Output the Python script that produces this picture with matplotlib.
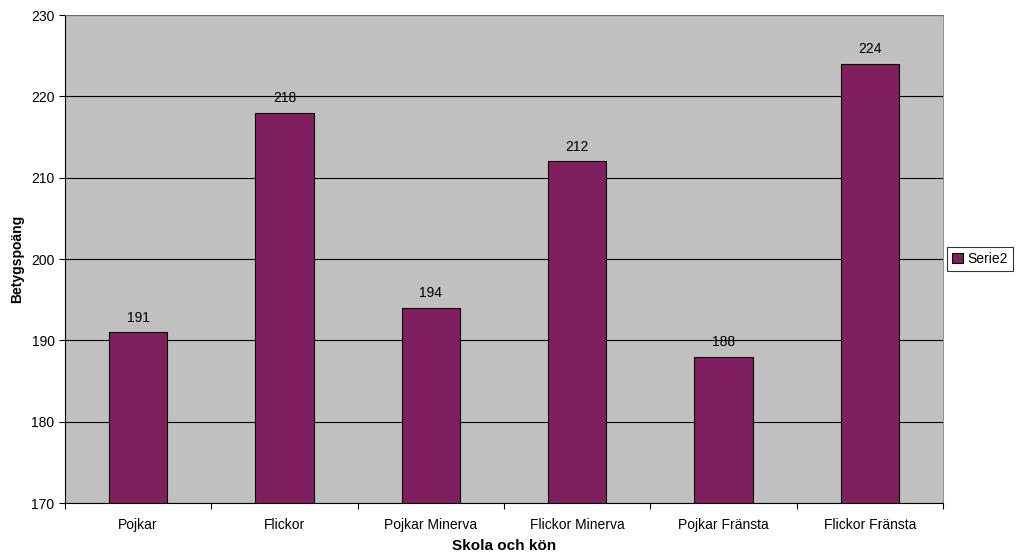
import matplotlib
matplotlib.use('Agg')
from matplotlib import pyplot as plt
import numpy as np

categories = ['Pojkar', 'Flickor', 'Pojkar Minerva', 'Flickor Minerva', 'Pojkar Fränsta', 'Flickor Fränsta']
values = [191, 218, 194, 212, 188, 224]
y_ticks = [170, 180, 190, 200, 210, 220, 230]

plt.rcParams['font.family'] = ['Liberation Sans', 'DejaVu Sans']
fs = 10

fig = plt.figure(figsize=(10.19, 5.56), dpi=100)
ax = fig.add_axes([65 / 1019, 1 - 503 / 556, (943 - 65) / 1019, (503 - 15) / 556])
ax.set_facecolor('#c0c0c0')

x = np.arange(len(categories))
bars = ax.bar(x, values, width=0.4, bottom=0, color='#7f1f5f', edgecolor='black',
              linewidth=0.8, label='Serie2', zorder=3)
for xi, v in zip(x, values):
    ax.text(xi, v + 0.9, str(v), ha='center', va='bottom', fontsize=fs)

ax.set_xlim(-0.5, len(categories) - 0.5)
ax.set_ylim(170, 230)
ax.set_yticks(y_ticks)
ax.yaxis.grid(True, color='black', linewidth=0.8, zorder=1)
ax.set_axisbelow(True)

# ticks between categories, labels in the middle
ax.set_xticks(np.arange(-0.5, len(categories), 1.0))
ax.set_xticklabels([])
ax.set_xticks(x, minor=True)
ax.set_xticklabels(categories, minor=True)
ax.tick_params(axis='x', which='minor', length=0, pad=11)
ax.tick_params(axis='both', which='major', direction='out', length=4, labelsize=fs)
ax.tick_params(axis='x', which='minor', labelsize=fs)

for s in ['left', 'bottom']:
    ax.spines[s].set_linewidth(0.8)
for s in ['right', 'top']:
    ax.spines[s].set_linewidth(0.6)
    ax.spines[s].set_color('#808080')

ax.set_xlabel('Skola och kön', fontsize=11, fontweight='bold', labelpad=5)
ax.set_ylabel('Betygspoäng', fontsize=10, fontweight='bold', labelpad=5)

leg = fig.legend(handles=[bars], labels=['Serie2'], loc='center left',
                 bbox_to_anchor=(947 / 1019, 1 - 259 / 556), fontsize=fs,
                 frameon=True, fancybox=False, handlelength=0.8, handleheight=0.8,
                 handletextpad=0.3, borderpad=0.35, borderaxespad=0)
leg.get_frame().set_edgecolor('black')
leg.get_frame().set_linewidth(0.8)

fig.savefig('out.png', dpi=100)
